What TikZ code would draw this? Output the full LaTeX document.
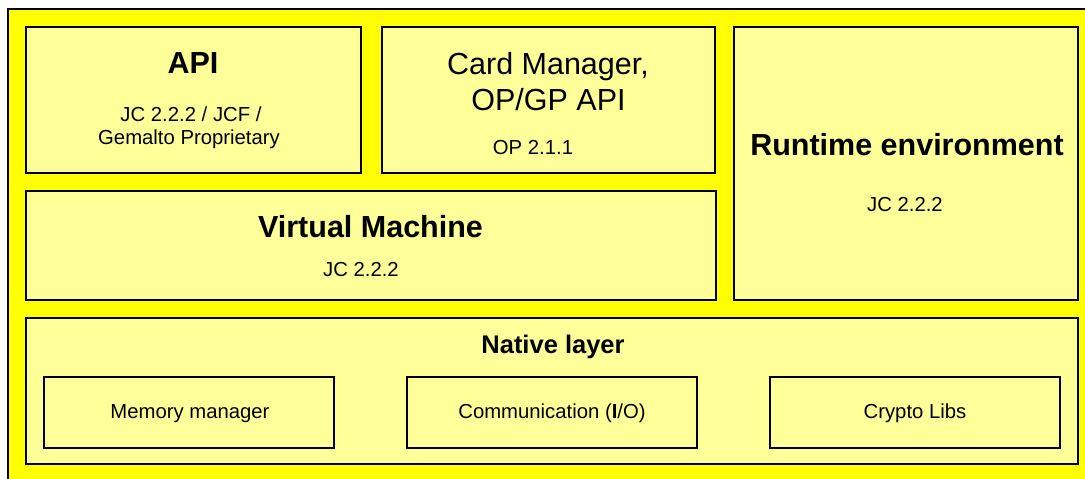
\documentclass[tikz,border=0pt]{standalone}
\usepackage{fontspec}
\setmainfont{Liberation Sans}
\definecolor{outery}{HTML}{FFFF00}
\definecolor{boxy}{HTML}{FFFF99}
\tikzset{
  layerbox/.style={draw=black, line width=1.5pt, fill=boxy},
  bigtitle/.style={anchor=base, font=\fontsize{30.5}{36}\selectfont\bfseries},
  bigplain/.style={anchor=base, font=\fontsize{30.5}{36}\selectfont, align=center},
  midtitle/.style={anchor=base, font=\fontsize{25.5}{30}\selectfont\bfseries},
  smalltext/.style={anchor=base, font=\fontsize{20.3}{23}\selectfont, align=center},
}
\begin{document}
\begin{tikzpicture}[x=1pt,y=-1pt]
\useasboundingbox (0,0) rectangle (1085,479);
\clip (0,0) rectangle (1085,479);
\fill[white] (0,0) rectangle (1085,479);
\draw[draw=black, line width=2.2pt, fill=outery] (8,9) rectangle (1110,500);

\draw[layerbox] (26,27) rectangle (361,173);
\node[bigtitle] (apit) at (193,73.5) {API};
\node[smalltext] (apis1) at (191,121.5) {JC 2.2.2 / JCF /};
\node[smalltext] (apis2) at (189,144.5) {Gemalto Proprietary};

\draw[layerbox] (382,27) rectangle (715,173);
\node[bigplain] (cm1) at (548,74.5) {Card Manager,};
\node[bigplain] (cm2) at (548.5,110.5) {OP/GP API};
\node[smalltext] (cms) at (533,154.5) {OP 2.1.1};

\draw[layerbox] (734,27) rectangle (1078,300);
\node[bigtitle] (rt) at (907,155.5) {Runtime environment};
\node[smalltext] (rts) at (905,211.5) {JC 2.2.2};

\draw[layerbox] (26,191) rectangle (716,300);
\node[bigtitle] (vm) at (370.5,237.5) {Virtual Machine};
\node[smalltext] (vms) at (361,276.5) {JC 2.2.2};

\draw[layerbox] (26,318) rectangle (1078,464);
\node[midtitle] (nl) at (553,353) {Native layer};

\draw[layerbox] (44,377) rectangle (334,448);
\node[smalltext] (mm) at (190,418.5) {Memory manager};
\draw[layerbox] (407,377) rectangle (697,448);
\node[smalltext] (com) at (552,418.5) {Communication (\textbf{I}/O)};
\draw[layerbox] (770,377) rectangle (1060,448);
\node[smalltext] (cl) at (915,418.5) {Crypto Libs};
\end{tikzpicture}
\end{document}
